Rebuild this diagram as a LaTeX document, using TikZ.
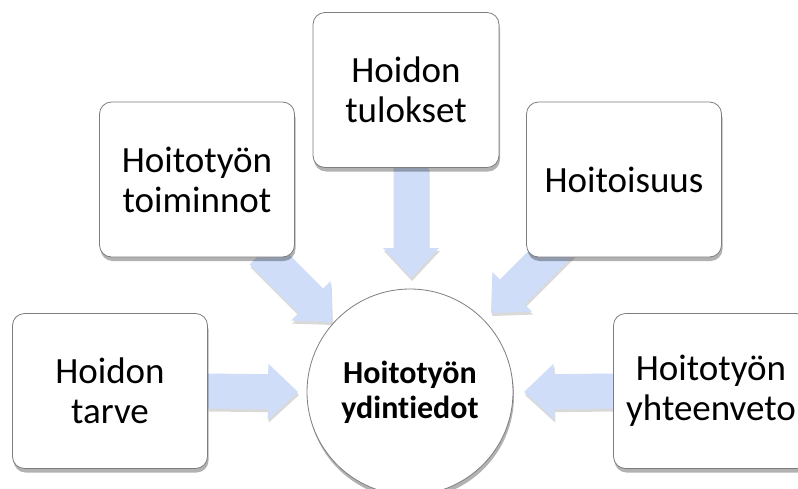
\documentclass[tikz,border=0pt]{standalone}
\usepackage{fontspec}
\setmainfont[RawFeature=-liga]{Carlito}
\usetikzlibrary{calc,shadows,backgrounds}
\definecolor{arrowblue}{RGB}{207,221,248}
\definecolor{boxline}{RGB}{125,125,125}
\tikzset{
  box/.style={draw=boxline, line width=0.8pt, fill=white, rounded corners=12pt,
    minimum width=195pt, minimum height=155pt, inner sep=0pt, align=center,
    font=\fontsize{37}{40}\selectfont,
    drop shadow={shadow xshift=1pt, shadow yshift=-4pt, opacity=0.3, fill=black}},
  core/.style={circle, draw=boxline, line width=0.8pt, fill=white,
    minimum size=206pt, inner sep=0pt, align=center,
    font=\bfseries\fontsize{32}{35}\selectfont,
    drop shadow={shadow xshift=1pt, shadow yshift=-4pt, opacity=0.3, fill=black}},
  arrowshape/.style={fill=arrowblue, draw=none,
    drop shadow={shadow xshift=1pt, shadow yshift=-3pt, opacity=0.15, fill=black}}
}
\newcommand{\fatarrow}[2]{%
  \coordinate (H) at ($(#2)!30pt!(#1)$);
  \path[arrowshape] ($(#1)!17.5pt!90:(#2)$) -- ($(H)!17.5pt!90:(#2)$)
    -- ($(H)!28pt!90:(#2)$) -- (#2) -- ($(H)!28pt!-90:(#2)$)
    -- ($(H)!17.5pt!-90:(#2)$) -- ($(#1)!17.5pt!-90:(#2)$) -- cycle;}
\begin{document}
\begin{tikzpicture}[x=1pt,y=-1pt]
  \useasboundingbox (0,0) rectangle (798,488);
  \clip (0,0) rectangle (798,488);
  \node[box] (tarve) at (110,391) {Hoidon\\tarve};
  \node[box, minimum width=186pt] (tulokset) at (406,90) {Hoidon\\tulokset};
  \node[box] (toiminnot) at (197,179.5) {Hoitotyön\\toiminnot};
  \node[box] (hoitoisuus) at (624,179.5) {Hoitoisuus};
  \node[box] (yhteenveto) at (711,391) {Hoitotyön\\yhteenveto};
  \node[core] (core) at (410,392) {Hoitotyön\\ydintiedot};
  \begin{scope}[on background layer]
    \coordinate (t1) at (298,392);
    \coordinate (t2) at (524,392);
    \coordinate (t3) at (411,278);
    \coordinate (s4) at (262,252);
    \coordinate (t4) at (332,322);
    \coordinate (s5) at (562,242);
    \coordinate (t5) at (491,313);
    \coordinate (s3) at (411,167);
    \fatarrow{tarve.east}{t1}
    \fatarrow{yhteenveto.west}{t2}
    \fatarrow{s3}{t3}
    \fatarrow{s4}{t4}
    \fatarrow{s5}{t5}
  \end{scope}
\end{tikzpicture}
\end{document}
